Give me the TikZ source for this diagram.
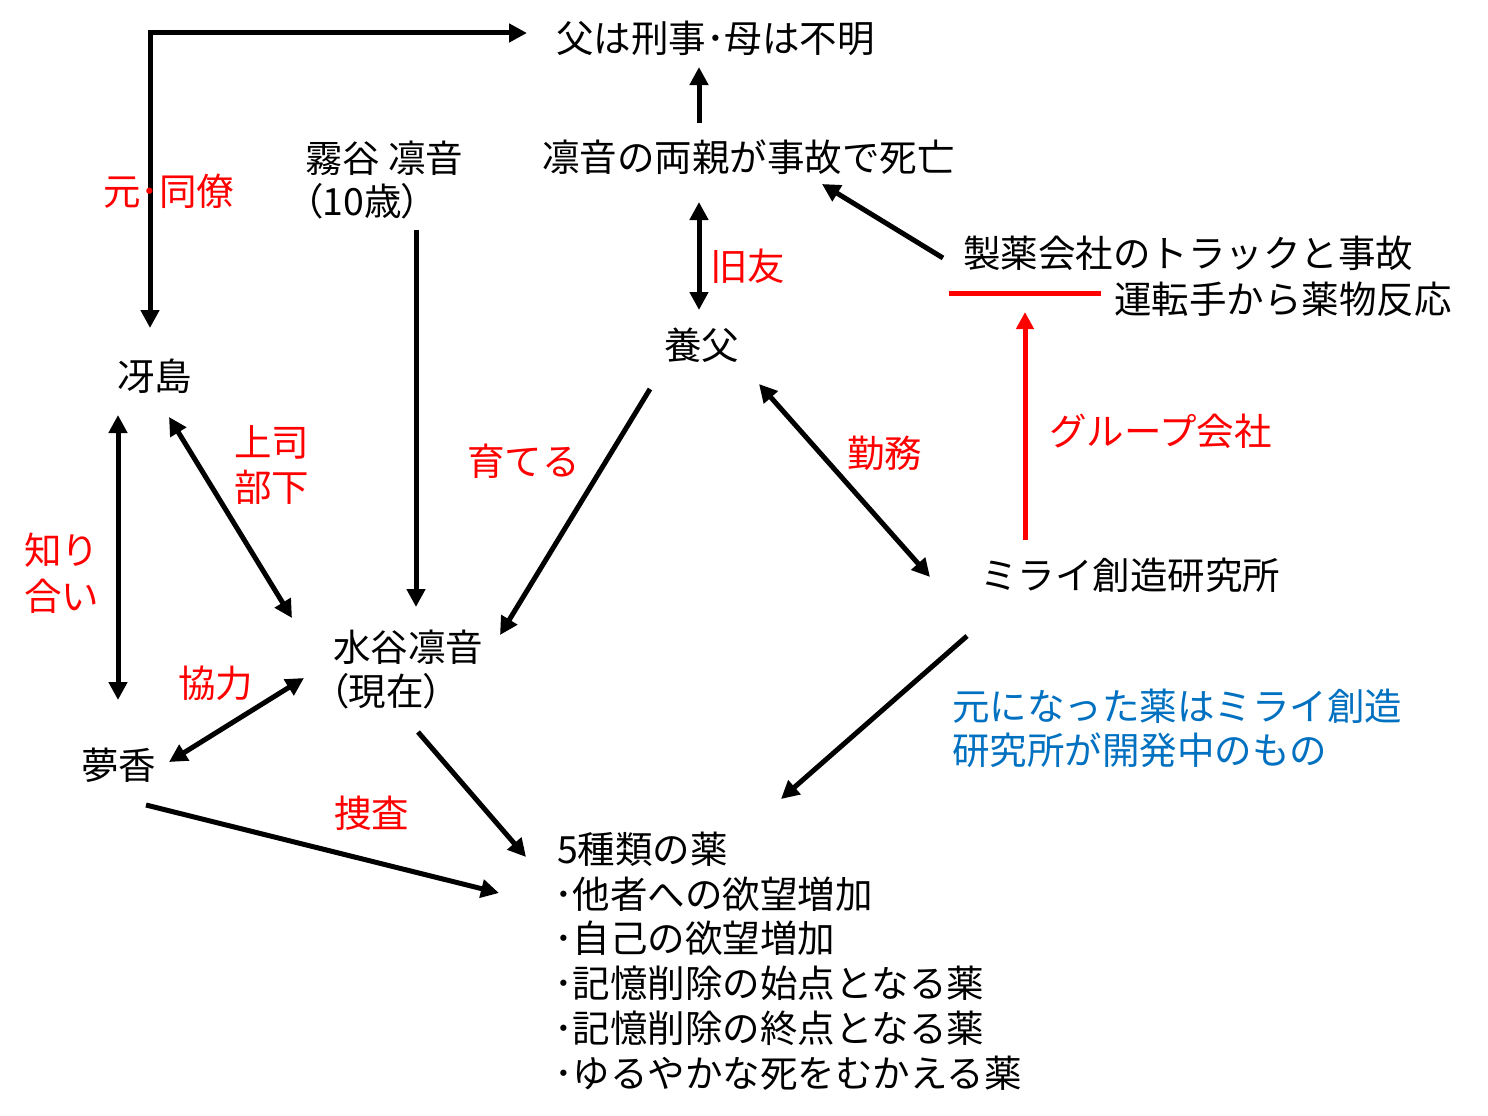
\documentclass[tikz,border=0pt]{standalone}
\usepackage{fontspec}
\setmainfont{Noto Sans CJK JP}
\usetikzlibrary{arrows.meta}
\definecolor{myblue}{RGB}{0,112,192}
\definecolor{myred}{RGB}{255,0,0}
\newcommand\diafont{\fontsize{37.5pt}{45pt}\selectfont}
\newcommand\paltparen[1]{{\addfontfeatures{RawFeature=+palt}#1}}
\begin{document}
\begin{tikzpicture}[x=1pt,y=-1pt,
  lbl/.style={anchor=west, inner sep=0pt, outer sep=0pt, font=\diafont, text height=33pt, text depth=4.5pt},
  redlbl/.style={lbl, text=myred},
  bluelbl/.style={lbl, text=myblue},
  conn/.style={line width=5pt, line join=miter, -{Triangle[length=18pt,width=18pt]}},
  biconn/.style={line width=5pt, line join=miter, {Triangle[length=18pt,width=18pt]}-{Triangle[length=18pt,width=18pt]}},
  redconn/.style={line width=5pt, myred, -{Triangle[length=17pt,width=17pt]}},
]
\useasboundingbox (0,0) rectangle (1488,1116);
\fill[white] (0,0) rectangle (1488,1116);

% ---------- nodes ----------
\node[lbl] (chichi) at (556,38) {父は刑事･母は不明};
\node[lbl] (ryoushin) at (542,157) {凛音の両親が事故で死亡};
\node[lbl] (kiri1) at (305,158) {霧谷 凛音};
\node[lbl] (kiri2) at (304,201) {\paltparen{（10歳）}};
\node[lbl] (saejima) at (117,376) {冴島};
\node[lbl] (yofu) at (664,345) {養父};
\node[lbl] (seiyaku) at (963,253) {製薬会社のトラックと事故};
\node[lbl] (unten) at (1114,299) {運転手から薬物反応};
\node[lbl] (mirai) at (980,575) {ミライ創造研究所};
\node[lbl] (mizu1) at (333,647) {水谷凛音};
\node[lbl] (mizu2) at (330,691) {\paltparen{（現在）}};
\node[lbl] (yumeka) at (81,765) {夢香};
\node[lbl] (kusuri0) at (557,849) {5種類の薬};
\node[lbl] (kusuri1) at (554,894) {･他者への欲望増加};
\node[lbl] (kusuri2) at (554,938) {･自己の欲望増加};
\node[lbl] (kusuri3) at (554,983) {･記憶削除の始点となる薬};
\node[lbl] (kusuri4) at (554,1028) {･記憶削除の終点となる薬};
\node[lbl] (kusuri5) at (554,1073) {･ゆるやかな死をむかえる薬};
\node[bluelbl] (blue1) at (952,706) {元になった薬はミライ創造};
\node[bluelbl] (blue2) at (952,750) {研究所が開発中のもの};

% ---------- red labels ----------
\node[redlbl] (joushi) at (234,442) {上司};
\node[redlbl] (buka) at (234,487) {部下};
\node[redlbl] (shiri) at (24,550) {知り};
\node[redlbl] (ai) at (24,596) {合い};
\node[redlbl] (sodateru) at (467,461) {育てる};
\node[redlbl] (kyuuyuu) at (710,266) {旧友};
\node[redlbl] (kinmu) at (847,453) {勤務};
\node[redlbl] (group) at (1049,431) {グループ会社};
\node[redlbl] (kyouryoku) at (178,683) {協力};
\node[redlbl] (sousa) at (334,813) {捜査};

% ---------- connector end points ----------
\coordinate (saeIn) at (150,328);
\coordinate (corner) at (150,33);
\coordinate (chichiIn) at (527,33);
\coordinate (ryoUp) at (699,123);
\coordinate (chichiDown) at (699,67);
\coordinate (ryoDown) at (699,202);
\coordinate (yofuUp) at (699,310);
\coordinate (seiOut) at (943,258);
\coordinate (ryoIn) at (822,184);
\coordinate (tbarL) at (949,293);
\coordinate (tbarR) at (1101,293);
\coordinate (miraiUp) at (1025,540);
\coordinate (tbarIn) at (1025,312);
\coordinate (yofuKin) at (759,384);
\coordinate (miraiKin) at (930,577);
\coordinate (yofuOut) at (650,389);
\coordinate (mizuFromYofu) at (500,635);
\coordinate (kiriOut) at (416,230);
\coordinate (mizuFromKiri) at (416,607);
\coordinate (saeDown) at (169,417);
\coordinate (mizuFromSae) at (292,618);
\coordinate (saeLeft) at (118,415);
\coordinate (yumeUp) at (118,700);
\coordinate (yumeRight) at (169,762);
\coordinate (mizuFromYume) at (304,678);
\coordinate (yumeOut) at (146,805);
\coordinate (kusuriFromYume) at (499,893);
\coordinate (mizuOut) at (418,732);
\coordinate (kusuriFromMizu) at (526,857);
\coordinate (miraiOut) at (967,636);
\coordinate (kusuriFromMirai) at (781,799);

% ---------- connectors ----------
\draw[biconn] (saeIn) -- (corner) -- (chichiIn);
\draw[conn] (ryoUp) -- (chichiDown);
\draw[biconn] (ryoDown) -- (yofuUp);
\draw[conn] (seiOut) -- (ryoIn);
\draw[line width=5pt, myred] (tbarL) -- (tbarR);
\draw[redconn] (miraiUp) -- (tbarIn);
\draw[biconn] (yofuKin) -- (miraiKin);
\draw[conn] (yofuOut) -- (mizuFromYofu);
\draw[conn] (kiriOut) -- (mizuFromKiri);
\draw[biconn] (saeDown) -- (mizuFromSae);
\draw[biconn] (saeLeft) -- (yumeUp);
\draw[biconn] (yumeRight) -- (mizuFromYume);
\draw[conn] (yumeOut) -- (kusuriFromYume);
\draw[conn] (mizuOut) -- (kusuriFromMizu);
\draw[conn] (miraiOut) -- (kusuriFromMirai);

% label 元･同僚 drawn over the line, its dot on the line
\node[redlbl] (douryou) at (103,191) {元･同僚};
\end{tikzpicture}
\end{document}
